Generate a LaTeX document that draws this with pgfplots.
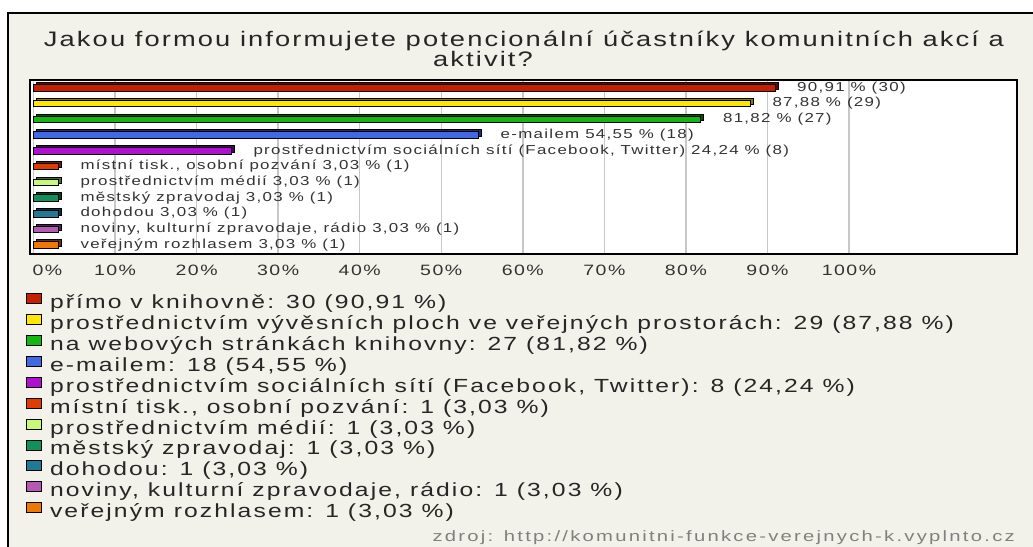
\documentclass[border=0pt]{standalone}
\usepackage{pgfplots}
\pgfplotsset{compat=1.18}
\usepackage{fontspec}
\setmainfont{Liberation Sans}
\newfontfamily\tfont{Liberation Sans}[FakeStretch=1.3,LetterSpace=10]
\newfontfamily\lfont{Liberation Sans}[FakeStretch=1.3,LetterSpace=11]
\newfontfamily\vfont{Liberation Sans}[FakeStretch=1.3,LetterSpace=10]
\newfontfamily\sfont{Liberation Sans}[FakeStretch=1.35,LetterSpace=15]
\newfontfamily\kfont{Liberation Sans}[FakeStretch=1.3,LetterSpace=10]
\definecolor{bgbeige}{RGB}{243,242,234}
\definecolor{cA}{RGB}{200,30,0}\definecolor{dA}{RGB}{110,0,0}
\definecolor{cB}{RGB}{255,230,0}\definecolor{dB}{RGB}{140,122,0}
\definecolor{cC}{RGB}{16,184,16}\definecolor{dC}{RGB}{0,85,0}
\definecolor{cD}{RGB}{65,105,225}\definecolor{dD}{RGB}{26,42,128}
\definecolor{cE}{RGB}{176,16,208}\definecolor{dE}{RGB}{80,0,96}
\definecolor{cF}{RGB}{224,60,0}\definecolor{dF}{RGB}{112,26,0}
\definecolor{cG}{RGB}{200,248,120}\definecolor{dG}{RGB}{74,106,32}
\definecolor{cH}{RGB}{16,144,90}\definecolor{dH}{RGB}{0,64,32}
\definecolor{cI}{RGB}{31,123,149}\definecolor{dI}{RGB}{10,48,64}
\definecolor{cJ}{RGB}{180,90,180}\definecolor{dJ}{RGB}{80,32,80}
\definecolor{cK}{RGB}{240,120,0}\definecolor{dK}{RGB}{112,48,0}
\newcommand{\mybar}[5]{%
  \addplot[xbar, bar shift=0pt, bar width=6.5pt, fill=#2, draw=black, line width=0.7pt, xshift=3pt, yshift=2pt, forget plot] coordinates {(#3,#4)};
  \addplot[xbar, bar shift=0pt, bar width=6.5pt, fill=#1, draw=black, line width=0.7pt, nodes near coords={#5}] coordinates {(#3,#4)};
}
\begin{document}
\begin{tikzpicture}
\useasboundingbox (0,0) rectangle (1033pt,-546pt);
\fill[white] (0,0) rectangle (1033pt,-546pt);
\filldraw[fill=bgbeige, draw=black, line width=1.5pt] (8pt,-13pt) rectangle (1050pt,-560pt);
\node[anchor=base, inner sep=0, text=black!85] at (524pt,-46pt) {\tfont\fontsize{21}{17}\selectfont Jakou formou informujete potencionální účastníky komunitních akcí a};
\node[anchor=base, inner sep=0, text=black!85] at (483pt,-66pt) {\tfont\fontsize{21}{17}\selectfont aktivit?};
\node[anchor=base east, inner sep=0, text=black!50] at (1015pt,-541pt) {\sfont\fontsize{15}{18}\selectfont zdroj: http://komunitni-funkce-verejnych-k.vyplnto.cz};
\begin{axis}[
  at={(30pt,-80pt)}, anchor=north west,
  scale only axis, width=987pt, height=174pt,
  xmin=-0.43, xmax=120.6, ymin=-0.5, ymax=10.57, y dir=reverse,
  axis background/.style={fill=white},
  axis line style={black, line width=1.3pt},
  xtick={0,10,...,100},
  xticklabels={\hspace*{28pt}0\%,10\%,20\%,30\%,40\%,50\%,60\%,70\%,80\%,90\%,100\%},
  ytick=\empty,
  xmajorgrids, grid style={color=black!22, line width=1.5pt},
  major tick length=0pt,
  xtick pos=bottom,
  xticklabel style={font=\kfont\fontsize{15}{17}\selectfont, text=black!80, inner sep=0pt, anchor=north, yshift=-11pt},
  every node near coord/.append style={font=\vfont\fontsize{13}{15}\selectfont, text=black!80, anchor=west, inner sep=0pt, xshift=22pt},
  legend style={at={(-0.00405,-0.2241)}, anchor=north west, draw=none, fill=none, inner sep=0pt,
    font=\lfont\fontsize{19}{21}\selectfont, text=black!85, row sep=2pt, column sep=8pt,
    nodes={inner sep=0pt, text height=12.5pt, text depth=3.5pt}},
  legend cell align=left,
  legend image code/.code={\draw[#1, line width=0.8pt] (0pt,0.5pt) rectangle (15pt,10.5pt);},
]
\mybar{cA}{dA}{90.91}{0}{90,91 \% (30)}
\addlegendentry{přímo v knihovně: 30 (90,91 \%)}
\mybar{cB}{dB}{87.88}{1}{87,88 \% (29)}
\addlegendentry{prostřednictvím vývěsních ploch ve veřejných prostorách: 29 (87,88 \%)}
\mybar{cC}{dC}{81.82}{2}{81,82 \% (27)}
\addlegendentry{na webových stránkách knihovny: 27 (81,82 \%)}
\mybar{cD}{dD}{54.55}{3}{e-mailem 54,55 \% (18)}
\addlegendentry{e-mailem: 18 (54,55 \%)}
\mybar{cE}{dE}{24.24}{4}{prostřednictvím sociálních sítí (Facebook, Twitter) 24,24 \% (8)}
\addlegendentry{prostřednictvím sociálních sítí (Facebook, Twitter): 8 (24,24 \%)}
\mybar{cF}{dF}{3.03}{5}{místní tisk., osobní pozvání 3,03 \% (1)}
\addlegendentry{místní tisk., osobní pozvání: 1 (3,03 \%)}
\mybar{cG}{dG}{3.03}{6}{prostřednictvím médií 3,03 \% (1)}
\addlegendentry{prostřednictvím médií: 1 (3,03 \%)}
\mybar{cH}{dH}{3.03}{7}{městský zpravodaj 3,03 \% (1)}
\addlegendentry{městský zpravodaj: 1 (3,03 \%)}
\mybar{cI}{dI}{3.03}{8}{dohodou 3,03 \% (1)}
\addlegendentry{dohodou: 1 (3,03 \%)}
\mybar{cJ}{dJ}{3.03}{9}{noviny, kulturní zpravodaje, rádio 3,03 \% (1)}
\addlegendentry{noviny, kulturní zpravodaje, rádio: 1 (3,03 \%)}
\mybar{cK}{dK}{3.03}{10}{veřejným rozhlasem 3,03 \% (1)}
\addlegendentry{veřejným rozhlasem: 1 (3,03 \%)}
\end{axis}
\end{tikzpicture}
\end{document}
